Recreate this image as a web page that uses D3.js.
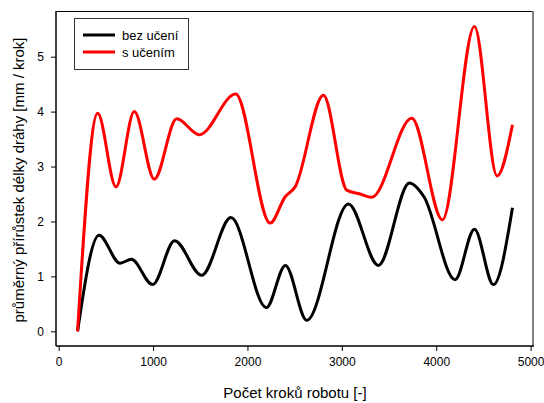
<!DOCTYPE html>
<html>
<head>
<meta charset="utf-8">
<script src="https://cdn.jsdelivr.net/npm/d3@7"></script>
<style>
  body { margin: 0; background: #fff; }
  text { font-family: Arial, "Liberation Sans", sans-serif; fill: #000; }
</style>
</head>
<body>
<div id="chart"></div>
<script>
// data (step count, mean path increment)
var bezUceniX = [200, 427, 650, 770, 995, 1228, 1515, 1825, 2200, 2402, 2628, 3070, 3387, 3716, 3870, 4200, 4405, 4606, 4808];
var bezUceniY = [0, 1.75, 1.24, 1.31, 0.85, 1.65, 1.02, 2.07, 0.43, 1.2, 0.2, 2.32, 1.2, 2.7, 2.45, 0.94, 1.86, 0.85, 2.25];

var sUcenimX = [200, 413, 607, 801, 1013, 1250, 1490, 1875, 2240, 2400, 2505, 2805, 3052, 3193, 3317, 3741, 4066, 4405, 4645, 4808];
var sUcenimY = [0, 3.97, 2.63, 4.0, 2.77, 3.87, 3.58, 4.32, 1.97, 2.45, 2.63, 4.3, 2.57, 2.5, 2.44, 3.88, 2.03, 5.55, 2.83, 3.76];

var seriesNames = ["bez učení", "s učením"];
var seriesColors = ["#000000", "#ff0000"];
var xTicks = [0, 1000, 2000, 3000, 4000, 5000];
var yTicks = [0, 1, 2, 3, 4, 5];
var xTitle = "Počet kroků robotu [-]";
var yTitle = "průměrný přírůstek délky dráhy [mm / krok]";

var width = 544, height = 403;
var frame = {left: 56, right: 533, top: 11, bottom: 346};

var svg = d3.select("#chart").append("svg")
  .attr("width", width)
  .attr("height", height);

var x = d3.scaleLinear().domain([0, 5000]).range([58.7, 530.6]);
var y = d3.scaleLinear().domain([0, 5]).range([331.3, 56.7]);

// frame
svg.append("line")
  .attr("x1", frame.left).attr("x2", frame.right)
  .attr("y1", frame.top + 0.5).attr("y2", frame.top + 0.5)
  .attr("stroke", "#000").attr("stroke-width", 1);
svg.append("line")
  .attr("x1", frame.right).attr("x2", frame.right)
  .attr("y1", frame.top).attr("y2", frame.bottom)
  .attr("stroke", "#808080").attr("stroke-width", 2);

// axes
var xAxis = svg.append("g")
  .attr("transform", `translate(0, ${frame.bottom})`)
  .call(d3.axisBottom(x).tickValues(xTicks).tickFormat(d3.format("d"))
    .tickSizeOuter(0).tickSize(5).tickPadding(6));
xAxis.select(".domain").remove();
xAxis.append("line")
  .attr("x1", frame.left).attr("x2", frame.right + 1)
  .attr("stroke", "#000").attr("stroke-width", 1.5);

var yAxis = svg.append("g")
  .attr("transform", `translate(${frame.left}, 0)`)
  .call(d3.axisLeft(y).tickValues(yTicks).tickFormat(d3.format("d"))
    .tickSizeOuter(0).tickSize(5).tickPadding(7));
yAxis.select(".domain").remove();
yAxis.append("line")
  .attr("y1", frame.top).attr("y2", frame.bottom)
  .attr("stroke", "#000").attr("stroke-width", 1.5);

svg.selectAll(".tick line").attr("stroke", "#000").attr("stroke-width", 1);
svg.selectAll(".tick text")
  .attr("font-size", 12)
  .attr("font-family", "Arial, 'Liberation Sans', sans-serif")
  .attr("fill", "#000");

// titles
svg.append("text")
  .attr("x", 295).attr("y", 398)
  .attr("text-anchor", "middle")
  .attr("font-size", 15)
  .text(xTitle);
svg.append("text")
  .attr("transform", "translate(24, 180) rotate(-90)")
  .attr("text-anchor", "middle")
  .attr("font-size", 15)
  .text(yTitle);

// lines
var line = d3.line()
  .x(d => x(d[0]))
  .y(d => y(d[1]))
  .curve(d3.curveMonotoneX);

var series = [
  d3.zip(bezUceniX, bezUceniY),
  d3.zip(sUcenimX, sUcenimY)
];

svg.append("g")
  .selectAll("path")
  .data(series)
  .enter()
  .append("path")
  .attr("d", line)
  .attr("fill", "none")
  .attr("stroke", (d, i) => seriesColors[i])
  .attr("stroke-width", 3)
  .attr("stroke-linejoin", "round");

// legend
var lg = svg.append("g");
lg.append("rect")
  .attr("x", 74.5).attr("y", 18.5)
  .attr("width", 114).attr("height", 51)
  .attr("fill", "#fff")
  .attr("stroke", "#333").attr("stroke-width", 1);
seriesNames.forEach(function(name, i) {
  var ly = 35 + i * 17;
  lg.append("line")
    .attr("x1", 83).attr("x2", 115)
    .attr("y1", ly).attr("y2", ly)
    .attr("stroke", seriesColors[i]).attr("stroke-width", 3);
  lg.append("text")
    .attr("x", 122).attr("y", ly + 4.5)
    .attr("font-size", 13)
    .text(name);
});
</script>
</body>
</html>
